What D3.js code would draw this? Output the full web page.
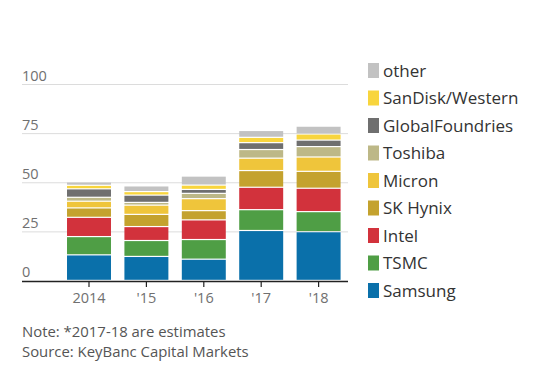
<!DOCTYPE html>
<html>
<head>
<meta charset="utf-8">
<script src="https://cdn.jsdelivr.net/npm/d3@7"></script>
<style>
  body { margin: 0; background: #fff; }
  svg text { font-family: "Open Sans", "Noto Sans", sans-serif; }
</style>
</head>
<body>
<script>
const years = ["2014", "'15", "'16", "'17", "'18"]
const companies = ["Samsung", "TSMC", "Intel", "SK Hynix", "Micron", "Toshiba", "GlobalFoundries", "SanDisk/Western", "other"]
const colors = ["#0a70aa", "#4f9e45", "#d2323c", "#c4a22e", "#efc53b", "#bdb887", "#6f6f6f", "#f8d53d", "#c2c2c2"]

// values per company, one entry per year
const samsung  = [13.0, 12.2, 10.8, 25.4, 24.8]
const tsmc     = [9.3, 8.1, 10.0, 10.6, 10.2]
const intel    = [9.8, 7.1, 10.0, 11.4, 11.9]
const skhynix  = [4.8, 6.2, 4.7, 8.5, 8.6]
const micron   = [3.4, 4.7, 6.1, 6.3, 7.3]
const toshiba  = [2.0, 1.4, 2.7, 4.4, 5.3]
const globalf  = [4.3, 3.7, 2.0, 3.5, 3.3]
const sandisk  = [1.8, 1.8, 2.2, 2.7, 3.1]
const other    = [1.7, 2.9, 4.6, 3.5, 4.0]

const yTicks = [0, 25, 50, 75, 100]
const notes = ["Note: *2017-18 are estimates", "Source: KeyBanc Capital Markets"]

const series = [samsung, tsmc, intel, skhynix, micron, toshiba, globalf, sandisk, other]
const table = years.map((yr, i) => {
  const row = {year: yr}
  companies.forEach((c, j) => row[c] = series[j][i])
  return row
})

const width = 544, height = 376

const svg = d3.select("body").append("svg")
    .attr("width", width)
    .attr("height", height)

const x = d3.scaleBand()
    .domain(years)
    .range([60.3, 347.3])
    .paddingInner(0.234)
    .paddingOuter(0.117)

const y = d3.scaleLinear()
    .domain([0, 100])
    .range([281, 84.5])

// gridlines + labels
const grid = svg.append("g")
grid.selectAll("line")
    .data(yTicks.filter(d => d > 0))
  .enter().append("line")
    .attr("x1", 22).attr("x2", 348)
    .attr("y1", d => y(d)).attr("y2", d => y(d))
    .attr("stroke", "#dcdcdc")
    .attr("stroke-width", 1)

grid.selectAll("text")
    .data(yTicks)
  .enter().append("text")
    .attr("x", 22)
    .attr("y", d => y(d) - 4)
    .attr("fill", "#707070")
    .style("font-size", "14.5px")
    .text(d => d)

// stacked bars
const stack = d3.stack().keys(companies)(table)

svg.append("g").selectAll("g")
    .data(stack)
  .enter().append("g")
    .attr("fill", (d, i) => colors[i])
  .selectAll("rect")
    .data(d => d)
  .enter().append("rect")
    .attr("x", d => x(d.data.year))
    .attr("width", x.bandwidth())
    .attr("y", d => y(d[1]))
    .attr("height", d => Math.max(0, y(d[0]) - y(d[1]) - 1.2))

// baseline + ticks
svg.append("line")
    .attr("x1", 22).attr("x2", 348)
    .attr("y1", y(0) + 0.5).attr("y2", y(0) + 0.5)
    .attr("stroke", "#222")
    .attr("stroke-width", 1.3)

const xAxis = svg.append("g")
xAxis.selectAll("line")
    .data(years)
  .enter().append("line")
    .attr("x1", d => x(d) + x.bandwidth() / 2)
    .attr("x2", d => x(d) + x.bandwidth() / 2)
    .attr("y1", y(0)).attr("y2", y(0) + 6)
    .attr("stroke", "#222")
    .attr("stroke-width", 1.2)

xAxis.selectAll("text")
    .data(years)
  .enter().append("text")
    .attr("x", d => x(d) + x.bandwidth() / 2)
    .attr("y", 303)
    .attr("text-anchor", "middle")
    .attr("fill", "#707070")
    .style("font-size", "14.5px")
    .text(d => d)

// legend, top to bottom = reverse stack order
const legend = svg.append("g").selectAll("g")
    .data(companies.slice().reverse())
  .enter().append("g")
    .attr("transform", (d, i) => "translate(368," + (70.5 + i * 27.5) + ")")

legend.append("rect")
    .attr("x", 0).attr("y", -7.5)
    .attr("width", 11).attr("height", 15)
    .attr("fill", d => colors[companies.indexOf(d)])

legend.append("text")
    .attr("x", 15)
    .attr("dy", "0.36em")
    .attr("fill", "#333")
    .style("font-size", "17px")
    .text(d => d)

// footnote
svg.append("g").selectAll("text")
    .data(notes)
  .enter().append("text")
    .attr("x", 22)
    .attr("y", (d, i) => 337 + i * 20)
    .attr("fill", "#555")
    .style("font-size", "14.9px")
    .text(d => d)
</script>
</body>
</html>
